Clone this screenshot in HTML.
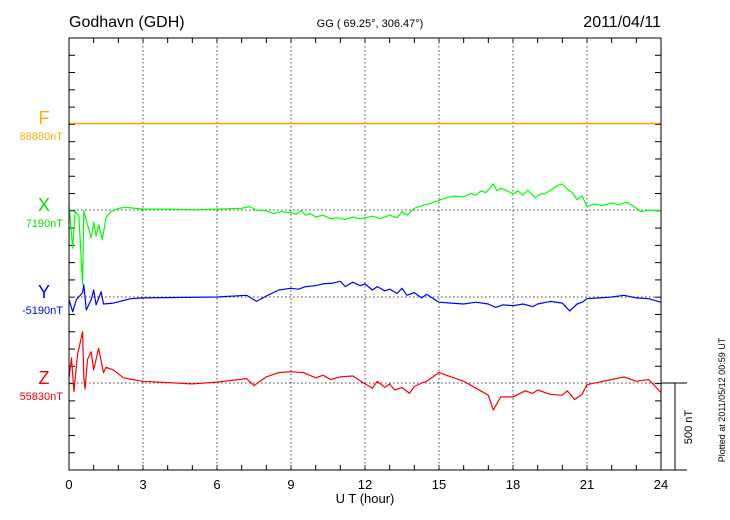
<!DOCTYPE html>
<html><head><meta charset="utf-8"><style>
body{margin:0;background:#fff;}
svg{display:block;font-family:"Liberation Sans",sans-serif;}
</style></head><body>
<svg id="chart" width="730" height="520" viewBox="0 0 730 520">
<text x="69" y="27" font-size="16">Godhavn (GDH)</text>
<text x="370" y="27" font-size="11" text-anchor="middle">GG ( 69.25°, 306.47°)</text>
<text x="661" y="27" font-size="16" text-anchor="end">2011/04/11</text>
<g id="grid"></g>
<g id="series"></g>
<rect x="69" y="38" width="592" height="432" fill="none" stroke="#000" stroke-width="1"/>
<line x1="661" y1="383" x2="687" y2="383" stroke="#000"/>
<line x1="661" y1="470" x2="687" y2="470" stroke="#000"/>
<line x1="675" y1="383" x2="675" y2="470" stroke="#000"/>
<text transform="translate(692,427) rotate(-90)" font-size="11" text-anchor="middle">500 nT</text>
<text transform="translate(725,400) rotate(-90)" font-size="9" text-anchor="middle">Plotted at 2011/05/12 00:59 UT</text>
<text x="365" y="503" font-size="13" text-anchor="middle">U T (hour)</text>
<text x="44" y="124" font-size="18" fill="#ffb000" text-anchor="middle">F</text>
<text x="63" y="140" font-size="11" fill="#ffb000" text-anchor="end">88880nT</text>
<text x="44" y="211" font-size="18" fill="#00e000" text-anchor="middle">X</text>
<text x="63" y="227" font-size="11" fill="#00e000" text-anchor="end">7190nT</text>
<text x="44" y="298" font-size="18" fill="#0000ff" text-anchor="middle">Y</text>
<text x="63" y="314" font-size="11" fill="#0000ff" text-anchor="end">-5190nT</text>
<text x="44" y="384" font-size="18" fill="#ff0000" text-anchor="middle">Z</text>
<text x="63" y="400" font-size="11" fill="#ff0000" text-anchor="end">55830nT</text>
</svg>
<script>
const xTickLabels=["0","3","6","9","12","15","18","21","24"];
const fTimes=[0,24];
const fValues=[0,0];
const xTimes=[0,0.15,0.25,0.4,0.55,0.6,0.75,0.9,1.0,1.1,1.2,1.35,1.5,1.7,2.0,2.3,3,4,5,6,7,7.3,7.6,8,8.3,8.6,9,9.2,9.4,9.6,9.8,10,10.3,10.6,10.9,11.2,11.5,11.8,12,12.3,12.6,13,13.3,13.5,13.7,14,14.3,14.6,15,15.3,15.6,16,16.3,16.5,16.7,16.9,17.1,17.2,17.35,17.5,17.7,17.9,18,18.2,18.4,18.6,18.9,19.1,19.3,19.6,19.8,20,20.2,20.4,20.6,20.8,21,21.3,21.6,22,22.3,22.6,22.9,23.2,23.5,24];
const xValues=[30,-220,-5,-35,-430,-5,-85,-160,-70,-150,-85,-170,-45,-10,10,15,5,5,2,5,10,20,0,-5,-20,-10,-15,-25,-5,-30,-20,-40,-30,-50,-45,-55,-40,-50,-45,-35,-50,-30,-45,-10,-30,10,25,35,55,70,80,75,95,85,110,100,130,150,110,125,115,100,90,110,85,115,70,90,95,120,140,150,120,100,60,80,20,35,25,40,30,45,20,-10,0,-5];
const yTimes=[0,0.15,0.3,0.55,0.6,0.7,0.9,1.0,1.1,1.3,1.4,1.8,2.5,3,6,7.2,7.6,8,8.5,9,9.3,9.6,10,10.3,10.7,11,11.2,11.5,11.8,12,12.3,12.5,12.8,13,13.3,13.5,13.7,14,14.3,14.5,15,15.5,16,16.5,17,17.3,17.6,18,18.4,18.8,19,19.5,20,20.3,20.6,20.8,21,21.5,22,22.5,23,23.5,24];
const yValues=[-15,-85,-15,25,70,-75,-15,40,-45,30,-40,-35,-10,-5,0,10,-25,5,40,50,45,60,65,75,80,90,60,85,65,75,40,60,35,45,20,50,10,25,-5,15,-30,-35,-40,-30,-40,-60,-45,-50,-40,-55,-40,-25,-35,-80,-40,-30,-10,-5,0,10,-5,-10,-30];
const zTimes=[0,0.1,0.2,0.35,0.55,0.6,0.65,0.75,0.9,1.0,1.2,1.4,1.5,1.8,2.2,3,5,6,7.2,7.5,8,8.5,9,9.5,10,10.3,10.6,11,11.5,12,12.3,12.5,12.8,13,13.2,13.5,13.8,14,14.3,14.5,15,15.5,16,16.5,17,17.2,17.5,18,18.5,18.8,19,19.5,20,20.2,20.5,20.8,21,21.5,22,22.5,23,23.5,24];
const zValues=[30,145,-50,165,295,30,-35,135,180,75,200,60,90,75,30,10,-5,5,25,-15,35,60,65,60,30,45,20,35,40,-5,-30,10,-25,-5,-40,-25,-60,-20,0,10,60,35,10,-30,-70,-155,-80,-80,-45,-60,-40,-65,-70,-45,-95,-65,-10,5,20,35,10,20,-55];
const svgNS="http://www.w3.org/2000/svg";
const L=69,R=661,T=38,B=470,pxPerNT=87/500;
function xs(t){return L+t*(R-L)/24;}
function ys(base,v){return base-v*pxPerNT;}
const grid=document.getElementById('grid');
function mk(tag,attrs,parent){const e=document.createElementNS(svgNS,tag);for(const k in attrs)e.setAttribute(k,attrs[k]);parent.appendChild(e);return e;}
for(let i=1;i<25;i++){const y=T+i*(B-T)/25;
 const t=mk('line',{x1:L,y1:y,x2:L+6,y2:y,stroke:'#000'},grid);
 
 
 const t2=mk('line',{x1:R-6,y1:y,x2:R,y2:y,stroke:'#000'},grid);
 
 }
for(let h=0;h<=24;h++){const x=xs(h);
 const a=mk('line',{x1:x,y1:T,x2:x,y2:T+5,stroke:'#000'},grid);
 
 
 const b=mk('line',{x1:x,y1:B-5,x2:x,y2:B,stroke:'#000'},grid);
 
 }
xTickLabels.forEach((lab,i)=>{const x=xs(+lab);
 if(i>0&&i<xTickLabels.length-1){const g=mk('line',{x1:x,y1:T,x2:x,y2:B,stroke:'#444','stroke-dasharray':'1.5,2.5'},grid);
 
 }
 const tx=mk('text',{x:x,y:489,'font-size':13,'text-anchor':'middle'},grid);
 tx.textContent=lab;
 
 });
const series=[
 {name:'f',base:123.5,times:fTimes,vals:fValues,color:'#f0a000',w:1.6},
 {name:'x',base:210,times:xTimes,vals:xValues,color:'#00ff00',w:1.2},
 {name:'y',base:297,times:yTimes,vals:yValues,color:'#0000ff',w:1.2},
 {name:'z',base:383,times:zTimes,vals:zValues,color:'#ff0000',w:1.2}];
const sg=document.getElementById('series');
series.forEach(s=>{
 const bl=mk('line',{x1:L,y1:s.base,x2:R,y2:s.base,stroke:'#444','stroke-dasharray':'1.5,2.5'},grid);
 
 
 const d=s.times.map((t,i)=>(i?'L':'M')+xs(t).toFixed(1)+','+ys(s.base,s.vals[i]).toFixed(1)).join('');
 const p=mk('path',{d:d,fill:'none',stroke:s.color,'stroke-width':s.w,'stroke-linejoin':'round'},sg);
 
 });
</script>
</body></html>
